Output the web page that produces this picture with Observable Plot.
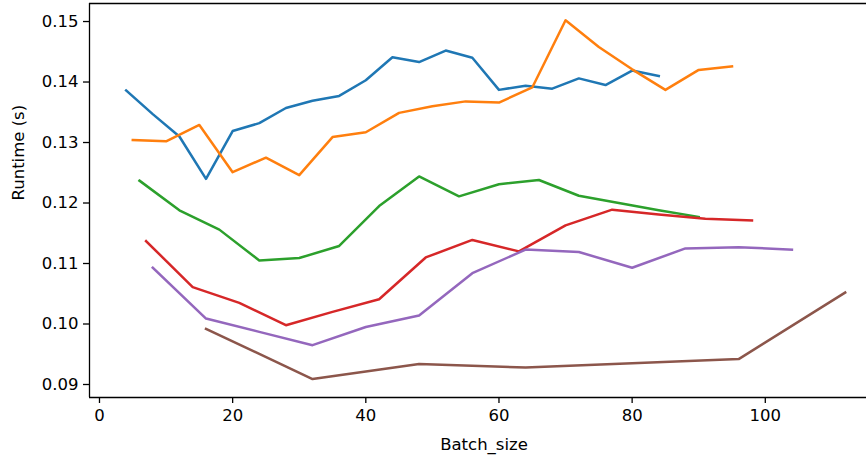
<!DOCTYPE html>
<html>
<head>
<meta charset="utf-8">
<script src="https://cdn.jsdelivr.net/npm/d3@7"></script>
<script src="https://cdn.jsdelivr.net/npm/@observablehq/plot@0.6"></script>
<style>
  html, body { margin: 0; padding: 0; background: #fff; overflow: hidden; }
  #chart svg { display: block; }
</style>
</head>
<body>
<div id="chart"></div>
<script>
// ---- data ----
const blueX = [4, 8, 12, 16, 20, 24, 28, 32, 36, 40, 44, 48, 52, 56, 60, 64, 68, 72, 76, 80, 84];
const blueY = [0.1386, 0.1347, 0.1310, 0.1240, 0.1319, 0.1332, 0.1357, 0.1369, 0.1377, 0.1403, 0.1441, 0.1433, 0.1452, 0.1440, 0.1387, 0.1394, 0.1389, 0.1406, 0.1395, 0.1419, 0.1410];

const orangeX = [5, 10, 15, 20, 25, 30, 35, 40, 45, 50, 55, 60, 65, 70, 75, 80, 85, 90, 95];
const orangeY = [0.1304, 0.1302, 0.1329, 0.1251, 0.1275, 0.1246, 0.1309, 0.1317, 0.1349, 0.1360, 0.1368, 0.1366, 0.1391, 0.1502, 0.1458, 0.1421, 0.1387, 0.1420, 0.1426];

const greenX = [6, 12, 18, 24, 30, 36, 42, 48, 54, 60, 66, 72, 78, 84, 90];
const greenY = [0.1237, 0.1188, 0.1156, 0.1105, 0.1109, 0.1129, 0.1195, 0.1244, 0.1211, 0.1231, 0.1238, 0.1212, 0.1200, 0.1188, 0.1177];

const redX = [7, 14, 21, 28, 35, 42, 49, 56, 63, 70, 77, 84, 91, 98];
const redY = [0.1137, 0.1061, 0.1035, 0.0998, 0.1020, 0.1041, 0.1110, 0.1139, 0.1120, 0.1163, 0.1189, 0.1181, 0.1174, 0.1171];

const purpleX = [8, 16, 24, 32, 40, 48, 56, 64, 72, 80, 88, 96, 104];
const purpleY = [0.1093, 0.1009, 0.0987, 0.0965, 0.0995, 0.1014, 0.1084, 0.1123, 0.1119, 0.1093, 0.1125, 0.1127, 0.1123];

const brownX = [16, 32, 48, 64, 80, 96, 112];
const brownY = [0.0992, 0.0909, 0.0934, 0.0928, 0.0935, 0.0942, 0.1052];

const xTicks = [0, 20, 40, 60, 80, 100];
const yTicks = [0.09, 0.10, 0.11, 0.12, 0.13, 0.14, 0.15];
const xLabel = "Batch_size";
const yLabel = "Runtime (s)";

const seriesList = [
  {xs: blueX, ys: blueY, color: "#1f77b4"},
  {xs: orangeX, ys: orangeY, color: "#ff7f0e"},
  {xs: greenX, ys: greenY, color: "#2ca02c"},
  {xs: redX, ys: redY, color: "#d62728"},
  {xs: purpleX, ys: purpleY, color: "#9467bd"},
  {xs: brownX, ys: brownY, color: "#8c564b"}
];

// ---- layout ----
const xDomain = [-1.5, 115.2];
const yDomain = [0.08785, 0.15298];
const font = "DejaVu Sans, sans-serif";
const fs = 16.5;

const lineMarks = seriesList.map(s =>
  Plot.line(s.xs.map((x, i) => ({x, y: s.ys[i]})), {
    x: "x", y: "y", stroke: s.color, strokeWidth: 2.5,
    strokeLinejoin: "round", strokeLinecap: "square"
  })
);

const chart = Plot.plot({
  width: 866,
  height: 455,
  marginLeft: 89,
  marginRight: 0,
  marginTop: 3,
  marginBottom: 58,
  style: {fontFamily: font, fontSize: fs + "px", color: "#000", background: "#fff", overflow: "visible"},
  x: {domain: xDomain, ticks: xTicks, label: null},
  y: {domain: yDomain, ticks: yTicks, label: null},
  marks: [
    ...lineMarks,
    Plot.axisX({ticks: xTicks, tickSize: 6, tickPadding: 6, tickFormat: d3.format("d"),
      fontSize: fs, stroke: "#000", strokeWidth: 1.3, label: null}),
    Plot.axisY({ticks: yTicks, tickSize: 6, tickPadding: 5, tickFormat: d3.format(".2f"),
      fontSize: fs, stroke: "#000", strokeWidth: 1.3, label: null}),
    Plot.ruleX([xDomain[0]], {stroke: "#000", strokeWidth: 1.3}),
    Plot.ruleY(yDomain, {stroke: "#000", strokeWidth: 1.3}),
    Plot.text([xLabel], {frameAnchor: "bottom", lineAnchor: "middle", dx: 6, dy: 47,
      fontSize: fs, fill: "#000"}),
    Plot.text([yLabel], {frameAnchor: "left", lineAnchor: "middle", rotate: -90, dx: -71,
      fontSize: fs, fill: "#000"})
  ]
});

document.getElementById("chart").appendChild(chart);
</script>
</body>
</html>
